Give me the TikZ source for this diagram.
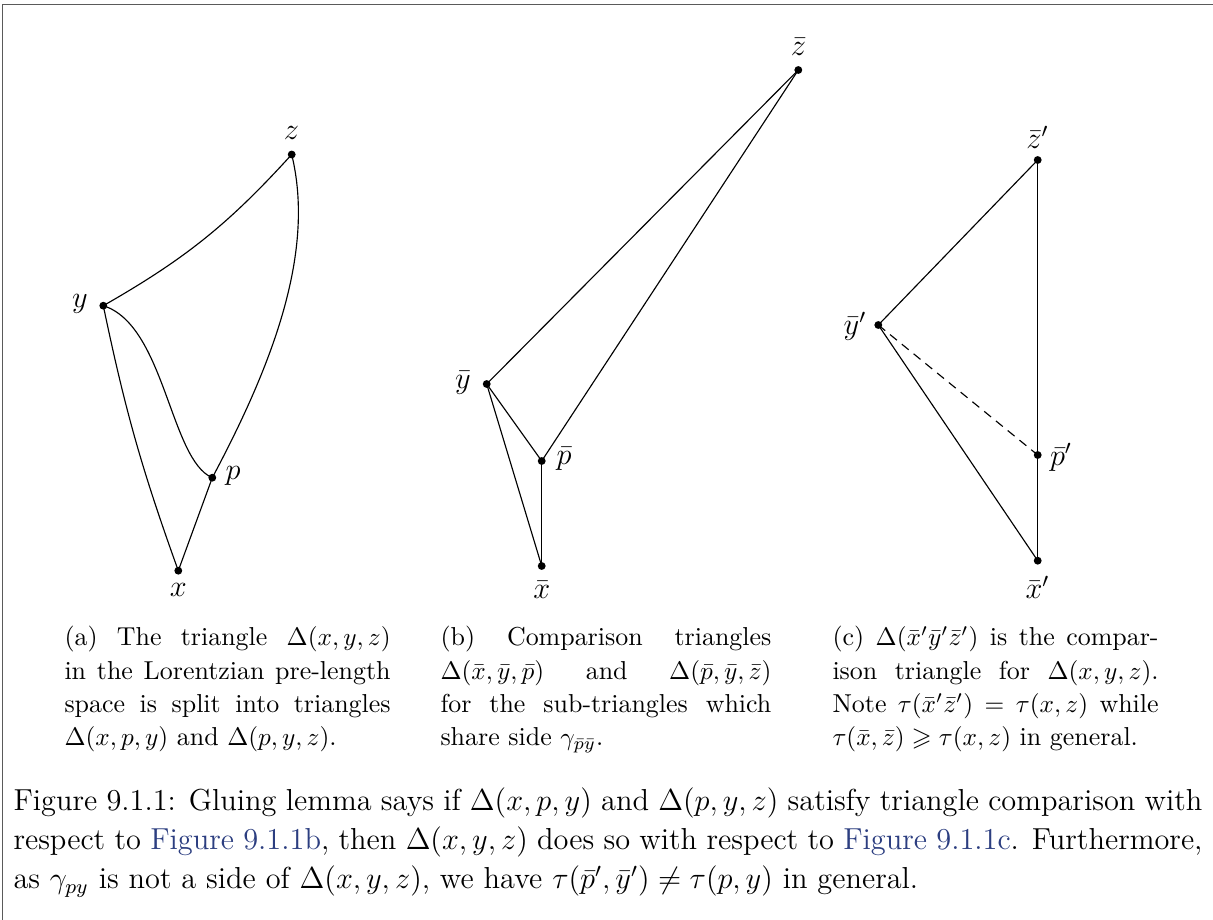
\documentclass[tikz,border=0pt]{standalone}
\usepackage{amsmath,amssymb}
\usepackage{xcolor}
\definecolor{linkblue}{RGB}{44,62,128}
\definecolor{framegray}{RGB}{90,90,90}
\begin{document}
\begin{tikzpicture}[x=0.3953pt,y=-0.3953pt,
  dot/.style={circle,fill=black,inner sep=0pt,minimum size=3.1pt},
  lbl/.style={inner sep=0pt,font=\fontsize{11.6}{14}\selectfont},
  edge/.style={line width=0.45pt},
  subcap/.style={anchor=north west,inner sep=0pt,align=justify,
    font=\fontsize{10.25}{13.16}\selectfont},
  maincap/.style={anchor=north west,inner sep=0pt,align=justify,
    font=\fontsize{12}{15.5}\selectfont, text width=470pt}]
\useasboundingbox (0,0) rectangle (1213,920);
% frame
\draw[framegray,line width=0.5pt] (2.7,921) -- (2.7,4.7) -- (1214,4.7);

% ---------- panel (a)
\node[dot] (z) at (291.7,154.5) {};
\node[dot] (y) at (103.3,305.7) {};
\node[dot] (p) at (212.3,477.7) {};
\node[dot] (x) at (178.3,570.7) {};
\node[lbl] (zl) at (291.5,133) {$z$};
\node[lbl] (yl) at (80,304) {$y$};
\node[lbl] (pl) at (233,476) {$p$};
\node[lbl] (xl) at (178.3,590) {$x$};
\draw[edge] (y.center) to[bend right=9] (z.center);
\draw[edge] (z.center) .. controls (315,250) and (275,360) .. (p.center);
\draw[edge] (y.center) .. controls (165,325) and (170,460) .. (p.center);
\draw[edge] (y.center) to[bend right=4] (x.center);
\draw[edge] (x.center) -- (p.center);

% ---------- panel (b)
\node[dot] (zb) at (798.3,70) {};
\node[dot] (yb) at (486.7,384) {};
\node[dot] (pb) at (541.7,461) {};
\node[dot] (xb) at (541.7,566) {};
\node[lbl] (zbl) at (798.5,47) {$\bar z$};
\node[lbl] (ybl) at (463,383) {$\bar y$};
\node[lbl] (pbl) at (564,459) {$\bar p$};
\node[lbl] (xbl) at (541.7,590) {$\bar x$};
\draw[edge] (yb.center) -- (zb.center);
\draw[edge] (pb.center) -- (zb.center);
\draw[edge] (yb.center) -- (pb.center);
\draw[edge] (yb.center) -- (xb.center);
\draw[edge] (pb.center) -- (xb.center);

% ---------- panel (c)
\node[dot] (zc) at (1037.7,160) {};
\node[dot] (yc) at (878.3,325) {};
\node[dot] (pc) at (1037.7,455) {};
\node[dot] (xc) at (1037.7,560.7) {};
\node[lbl] (zcl) at (1037.5,137) {$\bar z'$};
\node[lbl] (ycl) at (855,326) {$\bar y'$};
\node[lbl] (pcl) at (1061,457) {$\bar p'$};
\node[lbl] (xcl) at (1037.5,587) {$\bar x'$};
\draw[edge] (yc.center) -- (zc.center);
\draw[edge] (zc.center) -- (pc.center) -- (xc.center);
\draw[edge] (yc.center) -- (xc.center);
\draw[edge,dash pattern=on 3.5pt off 2.5pt] (yc.center) -- (pc.center);

% ---------- sub-captions
\node[subcap,text width=128.9pt] (capa) at (64,626)
 {(a) The triangle $\Delta(x,y,z)$ in the Lorentzian pre-length space is split into triangles $\Delta(x,p,y)$ and $\Delta(p,y,z)$.};
\node[subcap,text width=130.8pt] (capb) at (440,626)
 {(b) Comparison triangles $\Delta(\bar x,\bar y,\bar p)$ and $\Delta(\bar p,\bar y,\bar z)$\linebreak for the sub-triangles which share side $\gamma_{\bar p\bar y}$.};
\node[subcap,text width=128.9pt] (capc) at (832,626)
 {(c) $\Delta(\bar x'\bar y'\bar z')$ is the compar\-ison triangle for $\Delta(x,y,z)$. Note $\tau(\bar x'\bar z')=\tau(x,z)$ while $\tau(\bar x,\bar z)\geqslant\tau(x,z)$ in general.};

% ---------- main caption
\node[maincap] (cap) at (13,787)
 {Figure 9.1.1: Gluing lemma says if $\Delta(x,p,y)$ and $\Delta(p,y,z)$ satisfy triangle comparison with respect to \textcolor{linkblue}{Figure 9.1.1b}, then $\Delta(x,y,z)$ does so with respect to \textcolor{linkblue}{Figure 9.1.1c}. Furthermore, as $\gamma_{py}$ is not a side of $\Delta(x,y,z)$, we have $\tau(\bar p',\bar y')\neq\tau(p,y)$ in general.};
\end{tikzpicture}
\end{document}
